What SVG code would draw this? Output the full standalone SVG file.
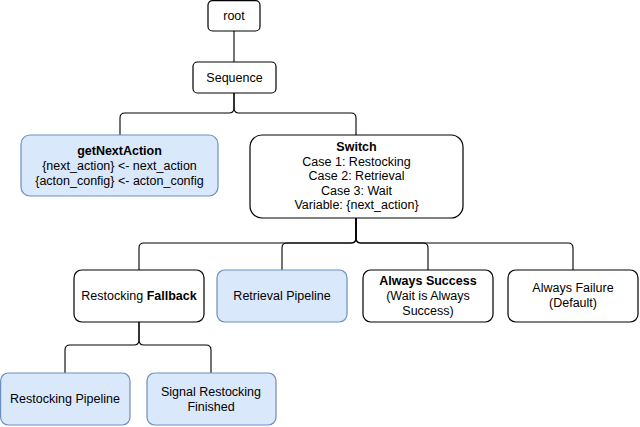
<svg xmlns="http://www.w3.org/2000/svg" width="640" height="427" viewBox="0 0 640 427">
<style>
.n{fill:#ffffff;stroke:#000000;stroke-width:1.2}
.b{fill:#dae8fc;stroke:#6c8ebf;stroke-width:1.2}
text{font-family:"Liberation Sans",Arial,sans-serif;font-size:12.5px;fill:#000000;text-anchor:middle;dominant-baseline:central}
.bold{font-weight:bold}
.e{fill:none;stroke:#000000;stroke-width:1.1}
</style>
<rect width="640" height="427" fill="#ffffff"/>
<g id="connectors">
<path class="e" d="M234 31 V62"/>
<path class="e" d="M234 93 V108 Q234 113 229 113 H125 Q120 113 120 118 V135"/>
<path class="e" d="M234 93 V108 Q234 113 239 113 H351 Q356 113 356 118 V135"/>
<path class="e" d="M356 218 V238 Q356 243 351 243 H144 Q139 243 139 248 V270"/>
<path class="e" d="M356 218 V238 Q356 243 351 243 H287 Q282 243 282 248 V270"/>
<path class="e" d="M356 218 V238 Q356 243 361 243 H423 Q428 243 428 248 V270"/>
<path class="e" d="M356 218 V238 Q356 243 361 243 H568 Q573 243 573 248 V270"/>
<path class="e" d="M139 322 V340 Q139 345 134 345 H70 Q65 345 65 350 V373"/>
<path class="e" d="M139 322 V340 Q139 345 144 345 H206 Q211 345 211 350 V373"/>
</g>
<g id="root">
<rect class="n" x="208" y="0.6" width="52" height="30.4" rx="4.5"/>
<text x="234" y="15.5">root</text>
</g>
<g id="sequence">
<rect class="n" x="193" y="62" width="83" height="31" rx="4.5"/>
<text x="234.5" y="77.5">Sequence</text>
</g>
<g id="getNextAction">
<rect class="b" x="21" y="135" width="197" height="61" rx="9"/>
<text x="119.5" y="151" class="bold">getNextAction</text>
<text x="119.5" y="166">{next_action} &lt;- next_action</text>
<text x="119.5" y="181">{acton_config} &lt;- acton_config</text>
</g>
<g id="switch">
<rect class="n" x="250" y="135" width="213" height="83" rx="12"/>
<text x="356.5" y="146.5" class="bold">Switch</text>
<text x="356.5" y="161.5">Case 1: Restocking</text>
<text x="356.5" y="176">Case 2: Retrieval</text>
<text x="356.5" y="190.5">Case 3: Wait</text>
<text x="356.5" y="205">Variable: {next_action}</text>
</g>
<g id="fallback">
<rect class="n" x="74" y="270" width="130" height="52" rx="7.8"/>
<text x="139" y="295.5">Restocking <tspan class="bold">Fallback</tspan></text>
</g>
<g id="retrieval">
<rect class="b" x="217" y="270" width="130" height="52" rx="7.8"/>
<text x="282" y="295.5">Retrieval Pipeline</text>
</g>
<g id="alwaysSuccess">
<rect class="n" x="363" y="270" width="130" height="52" rx="7.8"/>
<text x="428" y="281" class="bold">Always Success</text>
<text x="428" y="296">(Wait is Always</text>
<text x="428" y="311">Success)</text>
</g>
<g id="alwaysFailure">
<rect class="n" x="508" y="270" width="130" height="52" rx="7.8"/>
<text x="573" y="288">Always Failure</text>
<text x="573" y="303">(Default)</text>
</g>
<g id="restockingPipeline">
<rect class="b" x="0.6" y="373" width="129.4" height="52" rx="7.8"/>
<text x="65" y="399">Restocking Pipeline</text>
</g>
<g id="signalRestocking">
<rect class="b" x="147" y="373" width="129" height="52" rx="7.8"/>
<text x="211" y="392">Signal Restocking</text>
<text x="211" y="407">Finished</text>
</g>
</svg>
